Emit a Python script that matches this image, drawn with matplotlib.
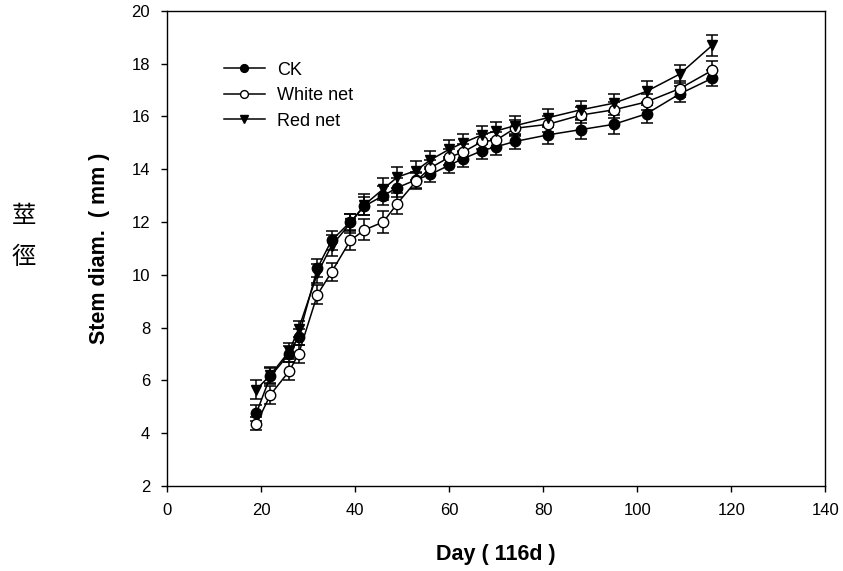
import numpy as np
import matplotlib.pyplot as plt

days = [19, 22, 26, 28, 32, 35, 39, 42, 46, 49, 53, 56, 60, 63, 67, 70, 74, 81, 88, 95, 102, 109, 116]

ck = [4.75, 6.15, 7.0, 7.65, 10.25, 11.3, 12.0, 12.6, 13.0, 13.3, 13.6, 13.8, 14.15, 14.4,
      14.7, 14.85, 15.05, 15.3, 15.5, 15.7, 16.1, 16.85, 17.45]
ck_err = [0.3, 0.3, 0.3, 0.3, 0.35, 0.35, 0.3, 0.35, 0.35, 0.35, 0.3, 0.3, 0.3, 0.3,
          0.3, 0.3, 0.3, 0.35, 0.35, 0.35, 0.35, 0.3, 0.3]

white = [4.35, 5.45, 6.35, 7.0, 9.25, 10.1, 11.3, 11.7, 12.0, 12.7, 13.55, 14.05, 14.45, 14.65,
         15.05, 15.1, 15.55, 15.7, 16.05, 16.25, 16.55, 17.05, 17.75]
white_err = [0.25, 0.35, 0.35, 0.35, 0.35, 0.35, 0.35, 0.4, 0.4, 0.4, 0.3, 0.3, 0.3, 0.3,
             0.3, 0.3, 0.3, 0.3, 0.3, 0.3, 0.3, 0.3, 0.35]

red = [5.65, 6.2, 7.1, 7.95, 10.05, 11.1, 11.95, 12.65, 13.25, 13.7, 13.95, 14.35, 14.75, 15.0,
       15.3, 15.45, 15.65, 15.95, 16.25, 16.5, 16.95, 17.6, 18.7]
red_err = [0.35, 0.3, 0.3, 0.3, 0.35, 0.4, 0.35, 0.4, 0.4, 0.4, 0.35, 0.35, 0.35, 0.35,
           0.35, 0.35, 0.35, 0.35, 0.35, 0.35, 0.4, 0.35, 0.4]

plt.rcParams['font.family'] = ['Liberation Sans', 'DejaVu Sans']

fig = plt.figure(figsize=(8.43, 5.71), dpi=100)
ax = fig.add_axes([0.198, 0.149, 0.781, 0.832])

kw = dict(color='black', lw=1.1, capsize=4.5, elinewidth=1.1, capthick=1.1, ms=7.5)
ax.errorbar(days, ck, yerr=ck_err, fmt='-o', mfc='black', mec='black', label='CK', **kw)
ax.errorbar(days, white, yerr=white_err, fmt='-o', mfc='white', mec='black', label='White net', **kw)
ax.errorbar(days, red, yerr=red_err, fmt='-v', mfc='black', mec='black', label='Red net', **kw)

ax.set_xlim(0, 140)
ax.set_ylim(2, 20)
ax.set_xticks(np.arange(0, 141, 20))
ax.set_yticks(np.arange(2, 21, 2))
ax.tick_params(direction='out', length=4.5, width=1.0, labelsize=12, pad=7.5, top=False, right=False)
for s in ax.spines.values():
    s.set_linewidth(1.0)

ax.set_xlabel('Day ( 116d )', fontsize=15.5, fontweight='bold')
ax.set_ylabel('Stem diam.  ( mm )', fontsize=15.5, fontweight='bold')
ax.xaxis.set_label_coords(0.5, -0.122)
ax.yaxis.set_label_coords(-0.087, 0.5)

handles, labels = ax.get_legend_handles_labels()
handles = [h[0] for h in handles]
leg = ax.legend(handles, labels, loc='upper left', bbox_to_anchor=(0.075, 0.908), frameon=False,
                fontsize=13, handlelength=2.3, markerscale=0.75, labelspacing=0.47,
                handletextpad=0.65, borderaxespad=0)

fig.text(0.028, 0.622, '莖', fontsize=17.5, family=['Noto Sans CJK TC'], ha='center', va='center')
fig.text(0.028, 0.550, '徑', fontsize=17.5, family=['Noto Sans CJK TC'], ha='center', va='center')

fig.savefig('out.png', dpi=100)
